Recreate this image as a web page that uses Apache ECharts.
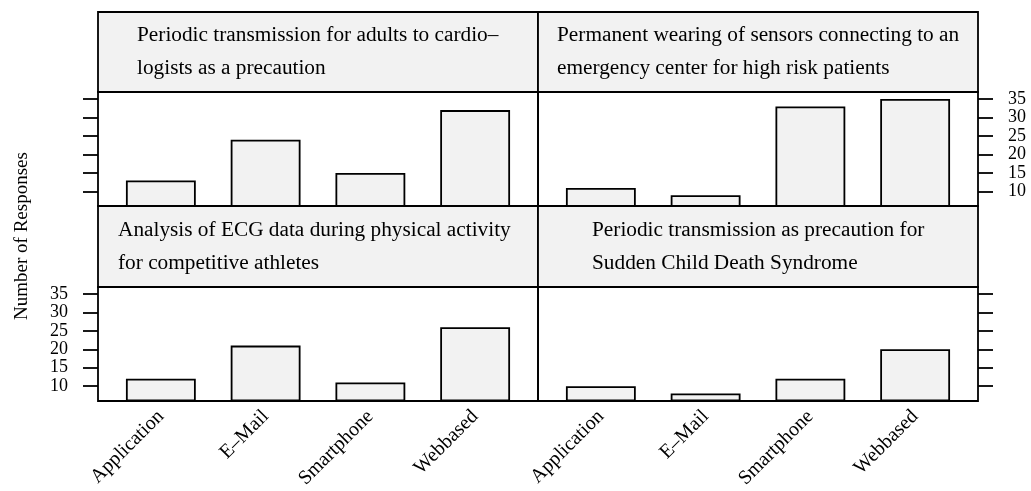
<!DOCTYPE html>
<html>
<head>
<meta charset="utf-8">
<script src="https://cdn.jsdelivr.net/npm/echarts@6/dist/echarts.min.js"></script>
<style>html,body{margin:0;padding:0;background:#fff}#c{width:1031px;height:491px}</style>
</head>
<body>
<div id="c"></div>
<script>
const categories = ['Application', 'E\u2013Mail', 'Smartphone', 'Webbased'];
const panelTitles = [
  'Periodic transmission for adults to cardio\u2013\nlogists as a precaution',
  'Permanent wearing of sensors connecting to an\nemergency center for high risk patients',
  'Analysis of ECG data during physical activity\nfor competitive athletes',
  'Periodic transmission as precaution for\nSudden Child Death Syndrome'
];
const adultsCardio = [13, 24, 15, 32];
const highRiskSensors = [11, 9, 33, 35];
const athletesECG = [12, 21, 11, 26];
const childDeath = [10, 8, 12, 20];
const yTicks = [10, 15, 20, 25, 30, 35];
const yTitle = 'Number of Responses';

const allSeries = [adultsCardio, highRiskSensors, athletesECG, childDeath];
const dMin = Math.min(...allSeries.flat()), dMax = Math.max(...allSeries.flat());
const pad = 0.07 * (dMax - dMin);
const yMin = dMin - pad, yMax = dMax + pad;

const FONT = 'Liberation Serif';
const LW = 1.8;
const colL = 98, colM = 538, colR = 978;
const rows = [{ stripTop: 12, panelTop: 92, panelBottom: 206 }, { stripTop: 206, panelTop: 287, panelBottom: 401 }];
const titleLeft = [137, 557, 118, 592];

const grids = [], xAxes = [], yAxes = [], series = [], graphics = [];
for (let i = 0; i < 4; i++) {
  const r = Math.floor(i / 2), c = i % 2;
  const row = rows[r];
  const left = c === 0 ? colL : colM;
  const width = c === 0 ? colM - colL : colR - colM;
  const ph = row.panelBottom - row.panelTop;
  grids.push({ left: left, top: row.panelTop, width: width, height: ph, show: true, backgroundColor: '#fff', borderWidth: 0, containLabel: false });
  const bottomRow = r === 1;
  xAxes.push({
    type: 'value', gridIndex: i, min: 0.4, max: 4.6,
    axisLine: { show: false }, splitLine: { show: false },
    axisTick: { show: false },
    axisLabel: {
      show: bottomRow, customValues: [1, 2, 3, 4], rotate: 45, margin: 13,
      showMinLabel: true, showMaxLabel: true, hideOverlap: false,
      formatter: v => categories[Math.round(v) - 1] || '',
      fontFamily: FONT, fontSize: 20, color: '#000'
    }
  });
  const rightSide = c === 1;
  const showLabels = (r === 0 && c === 1) || (r === 1 && c === 0);
  yAxes.push({
    type: 'value', gridIndex: i, min: yMin, max: yMax, position: rightSide ? 'right' : 'left',
    axisLine: { show: false }, splitLine: { show: false },
    axisTick: { show: true, customValues: yTicks, length: 15, inside: false, lineStyle: { color: '#000', width: LW } },
    axisLabel: {
      show: showLabels, customValues: yTicks, margin: 30,
      showMinLabel: true, showMaxLabel: true, hideOverlap: false,
      fontFamily: FONT, fontSize: 18, color: '#000', lineHeight: 18
    }
  });
  series.push({
    type: 'bar', xAxisIndex: i, yAxisIndex: i,
    data: allSeries[i].map((v, k) => [k + 1, v]),
    barWidth: '66.67%',
    itemStyle: { color: '#f2f2f2', borderColor: '#000', borderWidth: LW },
    silent: true, animation: false
  });
  graphics.push({
    type: 'rect', z: 0,
    shape: { x: left, y: row.stripTop, width: width, height: row.panelTop - row.stripTop },
    style: { fill: '#f2f2f2', stroke: '#000', lineWidth: LW }
  });
  graphics.push({
    type: 'rect', z: 100,
    shape: { x: left, y: row.panelTop, width: width, height: ph },
    style: { fill: 'transparent', stroke: '#000', lineWidth: LW }
  });
  const stripMid = (row.stripTop + row.panelTop) / 2;
  graphics.push({
    type: 'text', z: 101,
    style: {
      x: titleLeft[i], y: stripMid, text: panelTitles[i],
      font: '21.3px "' + FONT + '"', fill: '#000', lineHeight: 33,
      align: 'left', verticalAlign: 'middle'
    }
  });
}
graphics.push({
  type: 'text', z: 101, rotation: Math.PI / 2, x: 22, y: 236,
  style: { x: 0, y: 0, text: yTitle, font: '19px "' + FONT + '"', fill: '#000', align: 'center', verticalAlign: 'middle' }
});

const chart = echarts.init(document.getElementById('c'), null, { renderer: 'canvas' });
chart.setOption({
  animation: false,
  backgroundColor: '#fff',
  grid: grids, xAxis: xAxes, yAxis: yAxes, series: series,
  graphic: { elements: graphics }
});
</script>
</body>
</html>
